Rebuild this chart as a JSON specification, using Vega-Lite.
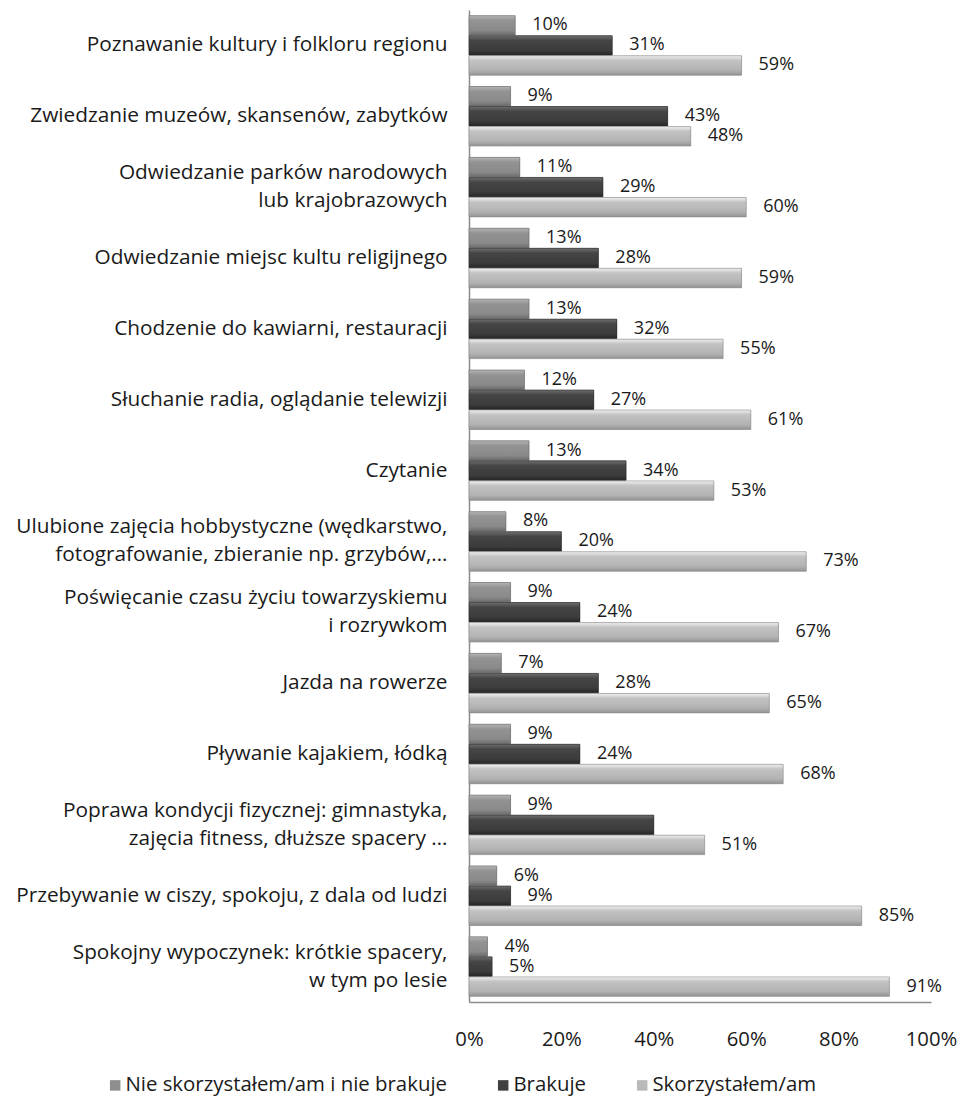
{
  "$schema": "https://vega.github.io/schema/vega-lite/v6.json",
  "autosize": {"type": "none"},
  "padding": {"left": 469, "top": 10, "right": 30, "bottom": 96},
  "width": 462,
  "height": 992,
  "background": "#ffffff",
  "config": {
    "view": {"stroke": null},
    "font": "Open Sans",
    "axis": {"labelFont": "Open Sans", "labelColor": "#1a1a1a", "labelFontSize": 20.8},
    "legend": {"labelFont": "Open Sans", "labelColor": "#1a1a1a", "labelFontSize": 20.4}
  },
  "data": {
    "values": [
      {"cat": "Poznawanie kultury i folkloru regionu", "series": "Nie skorzystałem/am i nie brakuje", "order": 1, "value": 10, "label": "10%"},
      {"cat": "Poznawanie kultury i folkloru regionu", "series": "Brakuje", "order": 2, "value": 31, "label": "31%"},
      {"cat": "Poznawanie kultury i folkloru regionu", "series": "Skorzystałem/am", "order": 3, "value": 59, "label": "59%"},
      {"cat": "Zwiedzanie muzeów, skansenów, zabytków", "series": "Nie skorzystałem/am i nie brakuje", "order": 1, "value": 9, "label": "9%"},
      {"cat": "Zwiedzanie muzeów, skansenów, zabytków", "series": "Brakuje", "order": 2, "value": 43, "label": "43%"},
      {"cat": "Zwiedzanie muzeów, skansenów, zabytków", "series": "Skorzystałem/am", "order": 3, "value": 48, "label": "48%"},
      {"cat": "Odwiedzanie parków narodowych|lub krajobrazowych", "series": "Nie skorzystałem/am i nie brakuje", "order": 1, "value": 11, "label": "11%"},
      {"cat": "Odwiedzanie parków narodowych|lub krajobrazowych", "series": "Brakuje", "order": 2, "value": 29, "label": "29%"},
      {"cat": "Odwiedzanie parków narodowych|lub krajobrazowych", "series": "Skorzystałem/am", "order": 3, "value": 60, "label": "60%"},
      {"cat": "Odwiedzanie miejsc kultu religijnego", "series": "Nie skorzystałem/am i nie brakuje", "order": 1, "value": 13, "label": "13%"},
      {"cat": "Odwiedzanie miejsc kultu religijnego", "series": "Brakuje", "order": 2, "value": 28, "label": "28%"},
      {"cat": "Odwiedzanie miejsc kultu religijnego", "series": "Skorzystałem/am", "order": 3, "value": 59, "label": "59%"},
      {"cat": "Chodzenie do kawiarni, restauracji", "series": "Nie skorzystałem/am i nie brakuje", "order": 1, "value": 13, "label": "13%"},
      {"cat": "Chodzenie do kawiarni, restauracji", "series": "Brakuje", "order": 2, "value": 32, "label": "32%"},
      {"cat": "Chodzenie do kawiarni, restauracji", "series": "Skorzystałem/am", "order": 3, "value": 55, "label": "55%"},
      {"cat": "Słuchanie radia, oglądanie telewizji", "series": "Nie skorzystałem/am i nie brakuje", "order": 1, "value": 12, "label": "12%"},
      {"cat": "Słuchanie radia, oglądanie telewizji", "series": "Brakuje", "order": 2, "value": 27, "label": "27%"},
      {"cat": "Słuchanie radia, oglądanie telewizji", "series": "Skorzystałem/am", "order": 3, "value": 61, "label": "61%"},
      {"cat": "Czytanie", "series": "Nie skorzystałem/am i nie brakuje", "order": 1, "value": 13, "label": "13%"},
      {"cat": "Czytanie", "series": "Brakuje", "order": 2, "value": 34, "label": "34%"},
      {"cat": "Czytanie", "series": "Skorzystałem/am", "order": 3, "value": 53, "label": "53%"},
      {"cat": "Ulubione zajęcia hobbystyczne (wędkarstwo,|fotografowanie, zbieranie np. grzybów,…", "series": "Nie skorzystałem/am i nie brakuje", "order": 1, "value": 8, "label": "8%"},
      {"cat": "Ulubione zajęcia hobbystyczne (wędkarstwo,|fotografowanie, zbieranie np. grzybów,…", "series": "Brakuje", "order": 2, "value": 20, "label": "20%"},
      {"cat": "Ulubione zajęcia hobbystyczne (wędkarstwo,|fotografowanie, zbieranie np. grzybów,…", "series": "Skorzystałem/am", "order": 3, "value": 73, "label": "73%"},
      {"cat": "Poświęcanie czasu życiu towarzyskiemu|i rozrywkom", "series": "Nie skorzystałem/am i nie brakuje", "order": 1, "value": 9, "label": "9%"},
      {"cat": "Poświęcanie czasu życiu towarzyskiemu|i rozrywkom", "series": "Brakuje", "order": 2, "value": 24, "label": "24%"},
      {"cat": "Poświęcanie czasu życiu towarzyskiemu|i rozrywkom", "series": "Skorzystałem/am", "order": 3, "value": 67, "label": "67%"},
      {"cat": "Jazda na rowerze", "series": "Nie skorzystałem/am i nie brakuje", "order": 1, "value": 7, "label": "7%"},
      {"cat": "Jazda na rowerze", "series": "Brakuje", "order": 2, "value": 28, "label": "28%"},
      {"cat": "Jazda na rowerze", "series": "Skorzystałem/am", "order": 3, "value": 65, "label": "65%"},
      {"cat": "Pływanie kajakiem, łódką", "series": "Nie skorzystałem/am i nie brakuje", "order": 1, "value": 9, "label": "9%"},
      {"cat": "Pływanie kajakiem, łódką", "series": "Brakuje", "order": 2, "value": 24, "label": "24%"},
      {"cat": "Pływanie kajakiem, łódką", "series": "Skorzystałem/am", "order": 3, "value": 68, "label": "68%"},
      {"cat": "Poprawa kondycji fizycznej: gimnastyka,|zajęcia fitness, dłuższe spacery …", "series": "Nie skorzystałem/am i nie brakuje", "order": 1, "value": 9, "label": "9%"},
      {"cat": "Poprawa kondycji fizycznej: gimnastyka,|zajęcia fitness, dłuższe spacery …", "series": "Brakuje", "order": 2, "value": 40, "label": ""},
      {"cat": "Poprawa kondycji fizycznej: gimnastyka,|zajęcia fitness, dłuższe spacery …", "series": "Skorzystałem/am", "order": 3, "value": 51, "label": "51%"},
      {"cat": "Przebywanie w ciszy, spokoju, z dala od ludzi", "series": "Nie skorzystałem/am i nie brakuje", "order": 1, "value": 6, "label": "6%"},
      {"cat": "Przebywanie w ciszy, spokoju, z dala od ludzi", "series": "Brakuje", "order": 2, "value": 9, "label": "9%"},
      {"cat": "Przebywanie w ciszy, spokoju, z dala od ludzi", "series": "Skorzystałem/am", "order": 3, "value": 85, "label": "85%"},
      {"cat": "Spokojny wypoczynek: krótkie spacery,|w tym po lesie", "series": "Nie skorzystałem/am i nie brakuje", "order": 1, "value": 4, "label": "4%"},
      {"cat": "Spokojny wypoczynek: krótkie spacery,|w tym po lesie", "series": "Brakuje", "order": 2, "value": 5, "label": "5%"},
      {"cat": "Spokojny wypoczynek: krótkie spacery,|w tym po lesie", "series": "Skorzystałem/am", "order": 3, "value": 91, "label": "91%"}
    ]
  },
  "encoding": {
    "y": {
      "field": "cat",
      "type": "nominal",
      "sort": null,
      "title": null,
      "scale": {"paddingInner": 0.16, "paddingOuter": 0.08},
      "axis": {
        "labelExpr": "split(datum.label, '|')",
        "labelLineHeight": 28,
        "labelOffset": {"expr": "indexof(datum.value, '|') >= 0 ? -14 : 0"},
        "labelPadding": 22,
        "labelLimit": 0,
        "ticks": false,
        "domainColor": "#8c8c8c",
        "domainWidth": 1.5
      }
    },
    "yOffset": {
      "field": "order",
      "type": "ordinal",
      "scale": {"paddingInner": 0.03}
    },
    "x": {
      "field": "value",
      "type": "quantitative",
      "title": null,
      "scale": {"domain": [0, 100], "nice": false},
      "axis": {
        "values": [0, 20, 40, 60, 80, 100],
        "labelExpr": "datum.value + '%'",
        "labelFontSize": 20.3,
        "grid": false,
        "ticks": false,
        "labelPadding": 27,
        "domainColor": "#8c8c8c",
        "domainWidth": 1.5,
        "labelFlush": false
      }
    }
  },
  "layer": [
    {
      "mark": {"type": "bar"},
      "encoding": {
        "color": {
          "field": "series",
          "type": "nominal",
          "title": null,
          "scale": {
            "domain": ["Nie skorzystałem/am i nie brakuje", "Brakuje", "Skorzystałem/am"],
            "range": ["#8e8e8e", "#3f3f3f", "#b9b9b9"]
          },
          "legend": {
            "orient": "none",
            "legendX": -364,
            "legendY": 1065,
            "direction": "horizontal",
            "symbolType": "square",
            "symbolSize": 110,
            "symbolStrokeWidth": 0,
            "columnPadding": 45,
            "labelOffset": 0,
            "labelLimit": 0
          }
        }
      }
    },
    {
      "transform": [{"filter": "datum.order == 1"}],
      "mark": {
        "type": "bar", "stroke": "#6a6a6a", "strokeWidth": 0.6,
        "color": {"gradient": "linear", "x1": 0, "y1": 0, "x2": 0, "y2": 1,
          "stops": [{"offset": 0, "color": "#b4b4b4"}, {"offset": 0.25, "color": "#939393"}, {"offset": 0.75, "color": "#8a8a8a"}, {"offset": 1, "color": "#6c6c6c"}]}
      },
      "encoding": {}
    },
    {
      "transform": [{"filter": "datum.order == 2"}],
      "mark": {
        "type": "bar", "stroke": "#2a2a2a", "strokeWidth": 0.6,
        "color": {"gradient": "linear", "x1": 0, "y1": 0, "x2": 0, "y2": 1,
          "stops": [{"offset": 0, "color": "#6e6e6e"}, {"offset": 0.25, "color": "#454545"}, {"offset": 0.75, "color": "#3c3c3c"}, {"offset": 1, "color": "#262626"}]}
      },
      "encoding": {}
    },
    {
      "transform": [{"filter": "datum.order == 3"}],
      "mark": {
        "type": "bar", "stroke": "#8a8a8a", "strokeWidth": 0.6,
        "color": {"gradient": "linear", "x1": 0, "y1": 0, "x2": 0, "y2": 1,
          "stops": [{"offset": 0, "color": "#f0f0f0"}, {"offset": 0.25, "color": "#c2c2c2"}, {"offset": 0.75, "color": "#b2b2b2"}, {"offset": 1, "color": "#939393"}]}
      },
      "encoding": {}
    },
    {
      "mark": {"type": "text", "align": "left", "baseline": "middle", "dx": 17, "fontSize": 18, "color": "#1a1a1a"},
      "encoding": {
        "text": {"field": "label"}
      }
    }
  ]
}
